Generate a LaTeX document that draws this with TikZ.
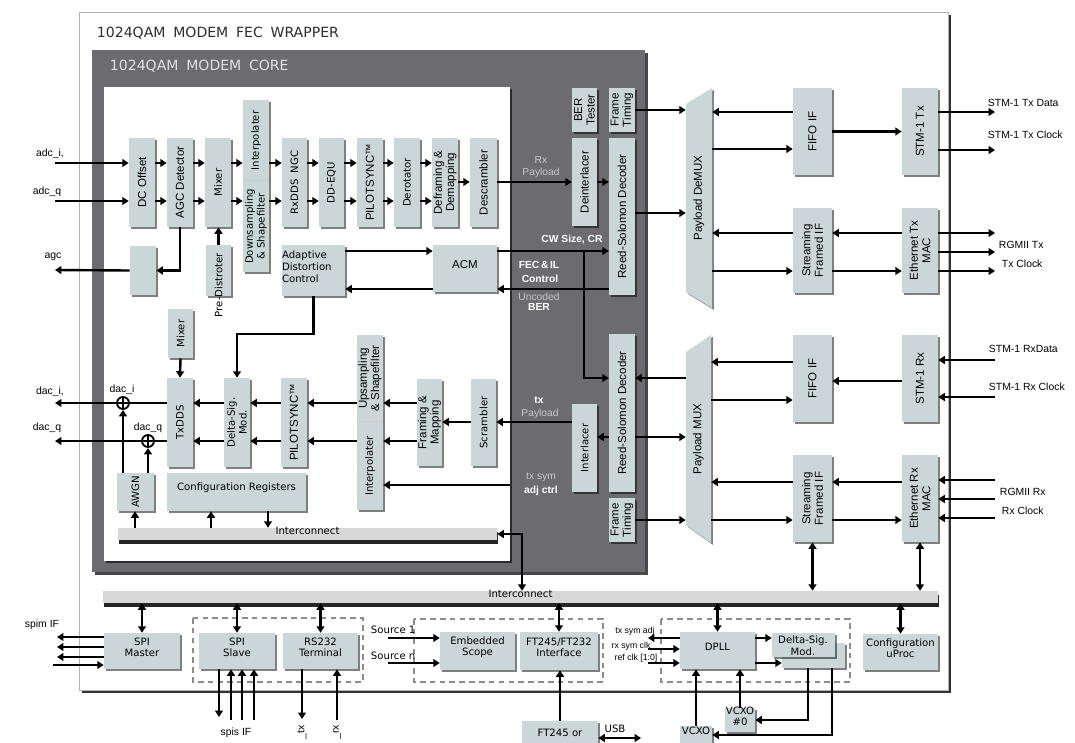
\documentclass[tikz,border=0pt]{standalone}
\usepackage{fontspec}
\setmainfont{DejaVu Sans}
\newfontfamily\arialfont{Liberation Sans}
\usetikzlibrary{arrows.meta,shadows,fit}
\definecolor{blkfill}{RGB}{202,214,216}
\definecolor{coregray}{RGB}{108,108,112}
\definecolor{barfill}{RGB}{216,216,216}
\definecolor{titlegray}{RGB}{45,45,45}

\begin{document}
\begin{tikzpicture}[x=0.025cm,y=-0.025cm,
  vf/.style={font=\fontsize{7.2}{8.4}\selectfont},
  af/.style={font=\arialfont\fontsize{8.2}{8.8}\selectfont},
  vtv/.style={rotate=90,align=center,inner sep=0pt,vf},
  vta/.style={rotate=90,align=center,inner sep=0pt,af},
  blk/.style={fill=blkfill,inner sep=0pt,vf,
    drop shadow={shadow xshift=1.3pt,shadow yshift=-1.3pt,fill=black,opacity=0.5}},
  blka/.style={blk,af},
  bar/.style={fill=barfill,inner sep=0pt,vf,
    drop shadow={shadow xshift=0.8pt,shadow yshift=-2.6pt,fill=black!85,opacity=1}},
  tip/.tip={Triangle[length=4.6pt,width=5.6pt]},
  arr/.style={-tip,line width=1.7pt},
  darr/.style={tip-tip,line width=1.7pt},
  plain/.style={line width=1.7pt},
  lbl/.style={font=\arialfont\fontsize{7.4}{8}\selectfont},
  slbl/.style={font=\arialfont\fontsize{6.2}{7}\selectfont},
  wlbl/.style={font=\arialfont\bfseries\fontsize{7.3}{8}\selectfont,text=white},
  glbl/.style={font=\arialfont\fontsize{7.3}{8}\selectfont,text=black!22},
  grp/.style={draw=black!45,line width=0.8pt,dash pattern=on 4pt off 3pt},
  sumnode/.style={circle,draw,line width=1.3pt,minimum size=3mm,inner sep=0pt,fill=white,
    path picture={\draw[line width=1.3pt] (path picture bounding box.north) -- (path picture bounding box.south)
      (path picture bounding box.west) -- (path picture bounding box.east);}}
]
\useasboundingbox (0,0) rectangle (1075,742);
\fill[white] (0,0) rectangle (1075,742);

% wrapper and core
\node[fit={(79,12) (948,690)},inner sep=0pt,draw=black!30,fill=white,
  drop shadow={shadow xshift=2.4pt,shadow yshift=-2.4pt,fill=black!80,opacity=1}] (wrap) {};
\node[anchor=west,text=titlegray,font=\fontsize{10}{12}\selectfont] (wraptitle) at (92,33)
  {1024QAM\hspace{0.55em}MODEM\hspace{0.55em}FEC\hspace{0.55em}WRAPPER};
\node[fit={(92,50) (645,572)},inner sep=0pt,fill=coregray,
  drop shadow={shadow xshift=2pt,shadow yshift=-2pt,fill=black!80,opacity=0.9}] (core) {};
\node[anchor=west,text=black!12,font=\fontsize{10}{12}\selectfont] (coretitle) at (105,66)
  {1024QAM\hspace{0.55em}MODEM\hspace{0.55em}CORE};
\node[fit={(104,87) (510,561)},inner sep=0pt,fill=white,
  drop shadow={shadow xshift=1.2pt,shadow yshift=-1.2pt,fill=black,opacity=0.6}] (inner) {};

% rx chain
\node[blk,fit={(129,138) (155,227)},label={[vta]center:DC Offset}] (dcoff) {};
\node[blk,fit={(167,138) (193,227)},label={[vta]center:AGC Detector}] (agcdet) {};
\node[blk,fit={(205,138) (231,227)},label={[vtv]center:Mixer}] (mixer) {};
\node[blk,fit={(243,100) (269,181)},label={[vtv]center:Interpolater}] (interp) {};
\node[blk,fit={(243,181) (269,272)},label={[vtv]center:Downsampling\\\& Shapefilter}] (downs) {};
\draw[black!20,line width=0.5pt] (downs.north west) -- (downs.north east);
\node[blk,fit={(282,138) (307,227)},label={[vtv]center:RxDDS\ \ NGC}] (rxdds) {};
\node[blk,fit={(319,138) (344,227)},label={[vtv]center:DD-EQU}] (ddequ) {};
\node[blk,fit={(357,138) (383,227)},label={[vta]center:PILOTSYNC™}] (pilotrx) {};
\node[blk,fit={(394,138) (420,227)},label={[vtv]center:Derotator}] (derot) {};
\node[blk,fit={(432,138) (458,227)},label={[vta]center:Deframing \&\\Demapping}] (defram) {};
\node[blk,fit={(470,138) (497,227)},label={[vta]center:Descrambler}] (descr) {};

\node[blk,fit={(572,88) (597,132)},label={[vta]center:BER\\Tester}] (bert) {};
\node[blk,fit={(609,88) (635,132)},label={[vta]center:Frame\\Timing}] (ftimerx) {};
\node[blk,fit={(572,138) (597,226)},label={[vta]center:Deinterlacer}] (deint) {};
\node[blk,fit={(609,138) (635,295)},label={[vta]center:Reed-Solomon Decoder}] (rsdecrx) {};

\node[blk,fit={(130,246) (156,295)}] (agcbox) {};
\node[blk,fit={(206,245) (231,296)}] (predist) {};
\node[vtv] (predisttxt) at (218.5,285) {Pre-Distroter};
\node[blk,fit={(282,245) (345,296)},align=left] (adapt) {Adaptive\\Distortion\\Control};
\node[blka,fit={(433,245) (497,292)}] (acm) {ACM};

% tx chain
\node[blk,fit={(168,309) (193,358)},label={[vtv]center:Mixer}] (mixertx) {};
\node[blk,fit={(167,378) (193,467)},label={[vtv]center:TxDDS}] (txdds) {};
\node[blk,fit={(224,378) (250,467)},label={[vtv]center:Delta-Sig.\\Mod.}] (dsm) {};
\node[blk,fit={(281,378) (307,467)},label={[vta]center:PILOTSYNC™}] (pilottx) {};
\node[blk,fit={(357,335) (383,422)},label={[vta]center:Upsampling\\\& Shapefilter}] (ups) {};
\node[blk,fit={(357,422) (383,510)},label={[vtv]center:Interpolater}] (interptx) {};
\draw[black!20,line width=0.5pt] (interptx.north west) -- (interptx.north east);
\node[blk,fit={(417,379) (442,466)},label={[vta]center:Framing \&\\Mapping}] (fram) {};
\node[blk,fit={(471,379) (496,466)},label={[vtv]center:Scrambler}] (scram) {};
\node[blk,fit={(572,404) (597,492)},label={[vtv]center:Interlacer}] (intl) {};
\node[blk,fit={(609,334) (635,492)},label={[vta]center:Reed-Solomon Decoder}] (rsdectx) {};
\node[blk,fit={(609,498) (635,542)},label={[vta]center:Frame\\Timing}] (ftimetx) {};
\node[blk,fit={(117,473) (154,511)},label={[vtv]center:AWGN}] (awgn) {};
\node[blk,fit={(167,473) (306,511)}] (cfgreg) {Configuration Registers};
\node[bar,fit={(118,528) (497,540)}] (busin) {\raisebox{-1pt}{Interconnect}};
\node[sumnode] (sumi) at (123,403) {};
\node[sumnode] (sumq) at (148,441) {};

% payload mux / demux
\fill[blk] (686,104) -- (712,88) -- (712,308) -- (686,292) -- cycle;
\node[inner sep=0pt,fit={(686,88) (712,308)},label={[vta]center:Payload DeMUX}] (demux) {};
\fill[blk] (686,352) -- (711,335) -- (711,543) -- (686,525) -- cycle;
\node[inner sep=0pt,fit={(686,335) (711,543)},label={[vta]center:Payload MUX}] (mux) {};

\node[blk,fit={(793,88) (832,175)},label={[vta]center:FIFO IF}] (fifotx) {};
\node[blk,fit={(902,88) (938,175)},label={[vta]center:STM-1 Tx}] (stmtx) {};
\node[blk,fit={(793,208) (832,293)},label={[vta]center:Streaming\\Framed IF}] (strmtx) {};
\node[blk,fit={(902,208) (938,293)},label={[vta]center:Ethernet Tx\\MAC}] (ethtx) {};
\node[blk,fit={(793,335) (832,422)},label={[vta]center:FIFO IF}] (fiforx) {};
\node[blk,fit={(902,335) (938,422)},label={[vta]center:STM-1 Rx}] (stmrx) {};
\node[blk,fit={(793,455) (832,542)},label={[vta]center:Streaming\\Framed IF}] (strmrx) {};
\node[blk,fit={(902,455) (938,542)},label={[vta]center:Ethernet Rx\\MAC}] (ethrx) {};

% bottom row
\node[bar,fit={(103,591) (938,603)}] (bus) {\raisebox{-1pt}{Interconnect}};
\draw[grp] (193,618) rectangle (363,682);
\draw[grp] (414,619) rectangle (603,682);
\draw[grp] (661,619) rectangle (850,682);
\node[blk,fit={(104,633) (180,669)},align=center] (spim) {SPI\\Master};
\node[blk,fit={(199,633) (275,669)},align=center] (spis) {SPI\\Slave};
\node[blk,fit={(283,633) (358,669)},align=center] (rs232) {RS232\\Terminal};
\node[blk,fit={(440,632) (515,670)},align=center] (escope) {Embedded\\Scope};
\node[blk,fit={(520,632) (598,670)},align=center] (ftif) {FT245/FT232\\Interface};
\node[blk,fit={(680,632) (755,669)}] (dpll) {DPLL};
\node[blk,fit={(782,643) (845,668)}] (dsmback) {};
\node[blk,fit={(772,633) (835,657)}] (dsmfront) {};
\node[vf,align=center,inner sep=0pt] (dsmtxt) at (803,646) {Delta-Sig.\\Mod.};
\node[blk,fit={(863,634) (938,670)},align=center] (cfgup) {Configuration\\uProc};
\node[blk,fit={(725,708) (755,732)},align=center] (vcxoa) {VCXO\\\#0};
\node[blk,fit={(680,726) (712,744)}] (vcxob) {VCXO};
\node[blk,fit={(522,721) (598,752)}] (ftchip) {FT245 or};

% rx chain arrows
\coordinate (adciin) at (55,163);
\coordinate (adcqin) at (55,201);
\draw[arr] (adciin) -- (dcoff.west|-adciin);
\draw[arr] (adcqin) -- (dcoff.west|-adcqin);
\node[lbl] at (50,154) {adc\_i,};
\node[lbl] at (47,192) {adc\_q};
\foreach \a/\b in {dcoff/agcdet,agcdet/mixer,rxdds/ddequ,ddequ/pilotrx,pilotrx/derot,derot/defram}{
  \draw[arr] (\a.east|-0,163) -- (\b.west|-0,163);
  \draw[arr] (\a.east|-0,201) -- (\b.west|-0,201);
}
\draw[arr] (mixer.east|-0,163) -- (interp.west|-0,163);
\draw[arr] (mixer.east|-0,201) -- (downs.west|-0,201);
\draw[arr] (interp.east|-0,163) -- (rxdds.west|-0,163);
\draw[arr] (downs.east|-0,201) -- (rxdds.west|-0,201);
\draw[arr] (defram.east|-0,182) -- (descr.west|-0,182);
\draw[arr] (descr.east|-0,182) -- (deint.west|-0,182);
\node[glbl,align=center] at (541,167) {Rx\\Payload};
\draw[arr] (deint.east|-0,182) -- (rsdecrx.west|-0,182);

\draw[arr] (agcdet.south) |- (agcbox.east);
\coordinate (agcout) at (55,270);
\draw[arr] (agcbox.west) -- (agcout);
\node[lbl] at (53,257) {agc};
\draw[arr] (predist.north) -- (mixer.south-|predist.north);

\draw[arr] (adapt.east|-0,251) -- (acm.west|-0,251);
\coordinate (cwsplit) at (584,251);
\draw[arr] (acm.east|-0,251) -- (rsdecrx.west|-0,251);
\node[wlbl] at (572,240) {CW Size, CR};
\draw[arr] (rsdecrx.west|-0,289) -- (acm.east|-0,289);
\draw[arr] (acm.west|-0,289) -- (adapt.east|-0,289);
\node[wlbl] at (539,265) {FEC\,\&\,IL};
\node[wlbl] at (540,279) {Control};
\node[glbl] at (539,297) {Uncoded};
\node[wlbl] at (539,307) {BER};
\draw[arr] (cwsplit) |- (rsdectx.west|-0,378);
\draw[arr] (adapt.south) -- ++(0,38) -| (dsm.north);

% tx chain arrows
\draw[arr] (mixertx.south) -- (txdds.north);
\draw[arr] (dsm.west|-0,403) -- (txdds.east|-0,403);
\draw[arr] (dsm.west|-0,441) -- (txdds.east|-0,441);
\draw[arr] (pilottx.west|-0,403) -- (dsm.east|-0,403);
\draw[arr] (pilottx.west|-0,441) -- (dsm.east|-0,441);
\draw[arr] (ups.west|-0,403) -- (pilottx.east|-0,403);
\draw[arr] (interptx.west|-0,441) -- (pilottx.east|-0,441);
\draw[arr] (fram.west|-0,403) -- (ups.east|-0,403);
\draw[arr] (fram.west|-0,441) -- (interptx.east|-0,441);
\draw[arr] (scram.west|-0,422) -- (fram.east|-0,422);
\draw[arr] (intl.west|-0,422) -- (scram.east|-0,422);
\node[wlbl] at (539,400) {tx};
\node[glbl] at (540,414) {Payload};
\draw[arr] (rsdectx.west|-0,437) -- (intl.east|-0,437);
\coordinate (symadj) at (510,485);
\draw[arr] (symadj) -- (interptx.east|-symadj);
\node[glbl] at (541,477) {tx sym};
\node[wlbl] at (541,491) {adj ctrl};

\coordinate (daciout) at (55,403);
\coordinate (dacqout) at (55,441);
\draw[plain] (txdds.west|-sumi) -- (sumi.east);
\draw[arr] (sumi.west) -- (daciout);
\draw[plain] (txdds.west|-sumq) -- (sumq.east);
\draw[arr] (sumq.west) -- (dacqout);
\draw[arr] (awgn.north-|sumi) -- (sumi.south);
\draw[arr] (awgn.north-|sumq) -- (sumq.south);
\node[lbl] at (50,392) {dac\_i,};
\node[lbl] at (47,428) {dac\_q};
\node[lbl] at (122,390) {dac\_i};
\node[lbl] at (148,428) {dac\_q};
\draw[arr] (busin.north-|135,0) -- (awgn.south-|135,0);
\draw[arr] (busin.north-|211,0) -- (cfgreg.south-|211,0);
\draw[arr] (cfgreg.south-|268,0) -- (busin.north-|268,0);
\draw[darr] (busin.east) -| (bus.north-|522,0);

% mux / demux arrows
\draw[arr] (ftimerx.east) -- (demux.west|-ftimerx.east);
\draw[arr] (rsdecrx.east|-0,213) -- (demux.west|-0,213);
\draw[arr] (fifotx.west|-0,112) -- (demux.east|-0,112);
\draw[arr] (demux.east|-0,149) -- (fifotx.west|-0,149);
\draw[arr] (fifotx.east) -- (stmtx.west|-fifotx.east);
\draw[arr] (strmtx.west|-0,233) -- (demux.east|-0,233);
\draw[arr] (demux.east|-0,271) -- (strmtx.west|-0,271);
\draw[arr] (ethtx.west|-0,233) -- (strmtx.east|-0,233);
\draw[arr] (strmtx.east|-0,271) -- (ethtx.west|-0,271);
\draw[arr] (stmtx.east|-0,112) -- (995,112);
\draw[arr] (stmtx.east|-0,150) -- (995,150);
\draw[arr] (ethtx.east|-0,233) -- (995,233);
\draw[arr] (ethtx.east|-0,252) -- (995,252);
\draw[arr] (ethtx.east|-0,271) -- (995,271);
\node[lbl,anchor=west] at (983,103) {STM-1 Tx Data};
\node[lbl,anchor=west] at (983,135) {STM-1 Tx Clock};
\node[lbl,anchor=west] at (994,245) {RGMII Tx};
\node[lbl,anchor=west] at (997,264) {Tx Clock};

\draw[arr] (mux.west|-0,378) -- (rsdectx.east|-0,378);
\draw[arr] (rsdectx.east|-0,437) -- (mux.west|-0,437);
\draw[arr] (ftimetx.east) -- (mux.west|-ftimetx.east);
\draw[arr] (fiforx.west|-0,362) -- (mux.east|-0,362);
\draw[arr] (mux.east|-0,400) -- (fiforx.west|-0,400);
\draw[arr] (stmrx.west|-0,381) -- (fiforx.east|-0,381);
\draw[arr] (strmrx.west|-0,482) -- (mux.east|-0,482);
\draw[arr] (mux.east|-0,520) -- (strmrx.west|-0,520);
\draw[arr] (ethrx.west|-0,482) -- (strmrx.east|-0,482);
\draw[arr] (strmrx.east|-0,520) -- (ethrx.west|-0,520);
\draw[arr] (995,360) -- (stmrx.east|-0,360);
\draw[arr] (995,397) -- (stmrx.east|-0,397);
\draw[arr] (995,480) -- (ethrx.east|-0,480);
\draw[arr] (995,499) -- (ethrx.east|-0,499);
\draw[arr] (995,518) -- (ethrx.east|-0,518);
\node[lbl,anchor=west] at (984,349) {STM-1 RxData};
\node[lbl,anchor=west] at (984,387) {STM-1 Rx Clock};
\node[lbl,anchor=west] at (995,492) {RGMII Rx};
\node[lbl,anchor=west] at (997,511) {Rx Clock};
\draw[darr] (strmrx.south) -- (bus.north-|strmrx.south);
\draw[darr] (ethrx.south) -- (bus.north-|ethrx.south);

% bottom arrows
\draw[darr] (bus.south-|spim.north) -- (spim.north);
\draw[darr] (bus.south-|spis.north) -- (spis.north);
\draw[darr] (bus.south-|rs232.north) -- (rs232.north);
\draw[darr] (bus.south-|ftif.north) -- (ftif.north);
\draw[darr] (bus.south-|dpll.north) -- (dpll.north);
\draw[darr] (bus.south-|cfgup.north) -- (cfgup.north);

\draw[arr] (spim.west|-0,637) -- (57,637);
\draw[arr] (spim.west|-0,647) -- (57,647);
\draw[arr] (spim.west|-0,657) -- (57,657);
\draw[arr] (53,665) -- (spim.west|-0,665);
\node[lbl] at (42,625) {spim IF};
\draw[arr] (spis.south-|219,0) -- (219,717);
\draw[arr] (231,720) -- (spis.south-|231,0);
\draw[arr] (242,720) -- (spis.south-|242,0);
\draw[arr] (254,720) -- (spis.south-|254,0);
\node[lbl] at (236,733) {spis IF};
\draw[arr] (rs232.south-|302,0) -- (302,719);
\draw[arr] (337,720) -- (rs232.south-|337,0);
\node[lbl,rotate=90,anchor=east,inner sep=0pt] at (302,725) {\_tx};
\node[lbl,rotate=90,anchor=east,inner sep=0pt] at (337,725) {\_rx};

\node[vf,anchor=west] at (366,630) {Source 1};
\node[vf,anchor=west] at (366,656) {Source n};
\draw[arr] (388,638) -- (escope.west|-0,638);
\draw[arr] (388,663) -- (escope.west|-0,663);
\draw[arr] (ftchip.north) -- (ftif.south-|ftchip.north);
\draw[darr] (ftchip.east|-0,738) -- (641,738);
\node[vf] at (615,729) {USB};

\draw[arr] (dpll.west|-0,638) -- (648,638);
\draw[arr] (648,649) -- (dpll.west|-0,649);
\draw[arr] (648,663) -- (dpll.west|-0,663);
\node[slbl] at (635,631) {tx sym adj};
\node[slbl] at (631,646) {rx sym clk};
\node[slbl] at (636,658) {ref clk [1:0]};
\draw[arr] (dpll.east|-0,638) -- (dsmfront.west|-0,638);
\draw[arr] (dpll.east|-0,663) -- (dsmback.west|-0,663);
\draw[arr] (vcxoa.north) -- (dpll.south-|vcxoa.north);
\draw[arr] (vcxob.north) -- (dpll.south-|vcxob.north);
\draw[arr] (dsmback.south-|808,0) |- (vcxoa.east);
\draw[arr] (dsmback.south-|832,0) |- (vcxob.east);
\end{tikzpicture}
\end{document}
